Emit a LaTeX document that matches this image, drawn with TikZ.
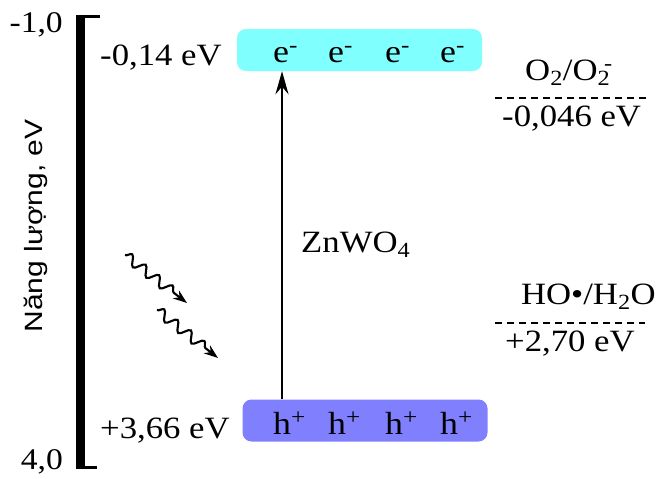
\documentclass[tikz,border=0pt]{standalone}
\usepackage{fontspec}
\usepackage{graphicx}
\setmainfont{Liberation Serif}[FakeStretch=1.12]
\newfontfamily\vnsans{Liberation Sans}[FakeStretch=1.2]
\usetikzlibrary{arrows.meta,decorations.pathmorphing}

\definecolor{cbcyan}{HTML}{80FFFF}
\definecolor{vbblue}{HTML}{8080FF}

\tikzset{
  lbl/.style={font=\fontsize{31}{37}\selectfont, inner sep=0pt},
  ticklbl/.style={font=\fontsize{30}{36}\selectfont, inner sep=0pt},
  carrier/.style={font=\fontsize{32}{38}\selectfont, inner sep=0pt, anchor=base west},
  band/.style={rounded corners=9pt, inner sep=0pt, minimum width=245pt, minimum height=42pt},
  dashline/.style={dash pattern=on 7pt off 5pt, line width=1.8pt},
  wavy/.style={decorate, decoration={snake, amplitude=5pt, segment length=17pt, post length=14pt},
    line width=2.1pt, -{Stealth[length=14pt, width=10pt]}},
}

\begin{document}
\begin{tikzpicture}[x=1pt, y=-1pt]
\useasboundingbox (0,0) rectangle (656,479);

% Energy axis
\draw[line width=8.5pt] (80.7,15) -- (80.7,469);
\draw[line width=3pt] (77,16.5) -- (100,16.5);
\draw[line width=3pt] (77,467.5) -- (97,467.5);
\node[ticklbl, anchor=base east] (ytop) at (63,32) {-1,0};
\node[ticklbl, anchor=base east] (ybot) at (63,469) {4,0};
\node[font=\vnsans\fontsize{25}{30}\selectfont, rotate=90, anchor=base, inner sep=0pt]
  (ylab) at (42,226) {Năng lượng, eV};

% Bands
\node[band, fill=cbcyan] (cb) at (359.5,50) {};
\node[band, fill=vbblue] (vb) at (365,420.5) {};
\node[lbl, anchor=base west] (ecb) at (100,65) {-0,14 eV};
\node[lbl, anchor=base west] (evb) at (100,438) {+3,66 eV};

% Electrons and holes
\foreach \i/\x in {1/273,2/328,3/385,4/440} {
  \node[carrier] (e\i) at (\x,62) {e\textsuperscript{-}};
  \node[carrier] (h\i) at (\x,434) {h\textsuperscript{+}};
}

% Excitation
\coordinate (ax) at (282,0);
\draw[line width=2.8pt, -{Stealth[length=23pt, width=13pt]}] (vb.north -| ax) -- (cb.south -| ax);
\node[lbl, anchor=base west] (zn) at (301,252) {ZnWO\textsubscript{4}};

% Light
\coordinate (w1a) at (125,255);
\coordinate (w1b) at (187,303);
\coordinate (w2a) at (157,310);
\coordinate (w2b) at (218,358);
\draw[wavy] (w1a) -- (w1b);
\draw[wavy] (w2a) -- (w2b);

% Redox levels
\coordinate (o2a) at (495,98);
\coordinate (o2b) at (647,98);
\draw[dashline] (o2a) -- (o2b);
\node[lbl, anchor=base west] (o2) at (525,80) {O\textsubscript{2}/O\textsubscript{2}\kern-0.2em\textsuperscript{-}};
\node[lbl, anchor=base west] (eo2) at (502,126) {-0,046 eV};

\coordinate (oha) at (495,323);
\coordinate (ohb) at (645,323);
\draw[dashline] (oha) -- (ohb);
\node[lbl, anchor=base east] (oh) at (656,304) {HO•/H\textsubscript{2}O};
\node[lbl, anchor=base west] (eoh) at (505,351) {+2,70 eV};

\end{tikzpicture}
\end{document}
